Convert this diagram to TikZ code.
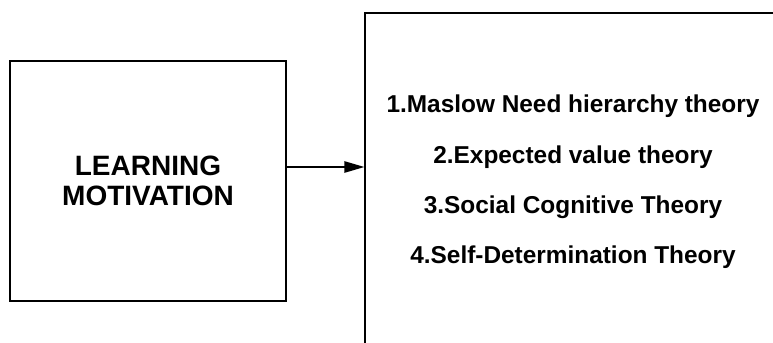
\documentclass[tikz,border=0pt]{standalone}
\usepackage{fontspec}
\setmainfont{Liberation Sans}
\usetikzlibrary{arrows.meta}

\begin{document}
\begin{tikzpicture}[
  x=0.75pt, y=-0.75pt,
  box/.style={draw, line width=1.2pt, rectangle, inner sep=0pt},
  item/.style={anchor=base, font=\bfseries\fontsize{18.3}{22}\selectfont},
  >={Triangle[length=15pt,width=8.5pt]}
]
  \clip (0,0) rectangle (773,342);

  \node[box, minimum width=207pt, minimum height=180pt, align=center,
        font=\bfseries\fontsize{21}{22}\selectfont] (learn) at (148,181)
        {LEARNING\\MOTIVATION};
  % theory frame runs past the page edge on the right and bottom
  \node[box, minimum width=401pt, minimum height=290pt] (theo) at (632.5,206.5) {};

  \node[item] (t1) at (573,113) {1.Maslow Need hierarchy theory};
  \node[item] (t2) at (573,163) {2.Expected value theory};
  \node[item] (t3) at (573,213) {3.Social Cognitive Theory};
  \node[item] (t4) at (573,263) {4.Self-Determination Theory};

  \draw[->, line width=1.2pt] ([yshift=10.5pt]learn.east) -- ([yshift=10.5pt]learn.east -| theo.west);
\end{tikzpicture}
\end{document}
